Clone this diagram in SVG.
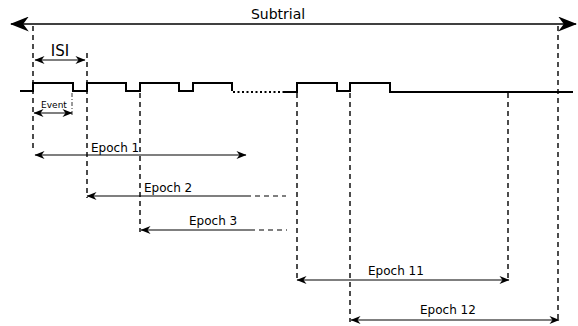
<svg xmlns="http://www.w3.org/2000/svg" width="578" height="326" viewBox="0 0 578 326">
<style>
.sig{fill:none;stroke:#000;stroke-width:2}
.dash{fill:none;stroke:#000;stroke-width:1.4;stroke-dasharray:5,4}
.arr{fill:none;stroke:#000;stroke-width:1.1}
.big{fill:none;stroke:#000;stroke-width:1.6}
.lbl{font-family:"DejaVu Sans",sans-serif;font-size:12px;fill:#000}
</style>
<defs>
<marker id="ah" viewBox="0 0 10 8" refX="9.5" refY="4" markerWidth="11" markerHeight="8" markerUnits="userSpaceOnUse" orient="auto-start-reverse">
<path d="M0,0 L10,4 L0,8 L3,4 Z" fill="#000"/>
</marker>
<marker id="ahb" viewBox="0 0 10 8" refX="9.5" refY="4" markerWidth="20" markerHeight="15" markerUnits="userSpaceOnUse" orient="auto-start-reverse">
<path d="M0,0 L10,4 L0,8 L3,4 Z" fill="#000"/>
</marker>
</defs>
<g id="connectors">
<line class="big" x1="11" y1="24" x2="576" y2="24" marker-start="url(#ahb)" marker-end="url(#ahb)"/>
<path class="sig" d="M20,91 H33 V83 H73 V91 H87 V83 H126 V91 H140 V83 H179 V91 H193 V83 H232 V91"/>
<path d="M233,92 H284" fill="none" stroke="#000" stroke-width="2" stroke-dasharray="2,2.5"/>
<path class="sig" d="M284,92 H297 V83 H337 V91 H350 V83 H390 V92 H573"/>
<line class="dash" x1="33" y1="26" x2="33" y2="150"/>
<line class="dash" x1="87" y1="53" x2="87" y2="198"/>
<line class="dash" x1="140" y1="93" x2="140" y2="232"/>
<line class="dash" x1="297" y1="93" x2="297" y2="282"/>
<line class="dash" x1="350" y1="93" x2="350" y2="322"/>
<line class="dash" x1="508" y1="93" x2="508" y2="282"/>
<line class="dash" x1="558" y1="26" x2="558" y2="322"/>
<line x1="72" y1="93" x2="72" y2="115" fill="none" stroke="#000" stroke-width="0.8" stroke-dasharray="4,2,1,2"/>
<line class="arr" x1="35" y1="60" x2="85" y2="60" marker-start="url(#ah)" marker-end="url(#ah)"/>
<line class="arr" x1="34" y1="113" x2="72" y2="113" marker-start="url(#ah)" marker-end="url(#ah)"/>
<line class="arr" x1="35" y1="155" x2="246" y2="155" marker-start="url(#ah)" marker-end="url(#ah)"/>
<line class="arr" x1="87" y1="196" x2="246" y2="196" marker-start="url(#ah)"/>
<line x1="246" y1="196" x2="286" y2="196" fill="none" stroke="#000" stroke-width="1.1" stroke-dasharray="5,4"/>
<line class="arr" x1="141" y1="230" x2="250" y2="230" marker-start="url(#ah)"/>
<line x1="250" y1="230" x2="287" y2="230" fill="none" stroke="#000" stroke-width="1.1" stroke-dasharray="5,4"/>
<line class="arr" x1="297" y1="280" x2="509" y2="280" marker-start="url(#ah)" marker-end="url(#ah)"/>
<line class="arr" x1="351" y1="320" x2="559" y2="320" marker-start="url(#ah)" marker-end="url(#ah)"/>
</g>
<g id="subtrial"><text class="lbl" x="278" y="19" text-anchor="middle" style="font-size:14px">Subtrial</text></g>
<g id="isi"><text class="lbl" x="60" y="56" text-anchor="middle" style="font-size:15px">ISI</text></g>
<g id="event"><text class="lbl" x="54" y="108" text-anchor="middle" style="font-size:9px">Event</text></g>
<g id="epoch1"><text class="lbl" x="91" y="152">Epoch 1</text></g>
<g id="epoch2"><text class="lbl" x="144" y="192">Epoch 2</text></g>
<g id="epoch3"><text class="lbl" x="189" y="225">Epoch 3</text></g>
<g id="epoch11"><text class="lbl" x="368" y="275">Epoch 11</text></g>
<g id="epoch12"><text class="lbl" x="420" y="314">Epoch 12</text></g>
</svg>
